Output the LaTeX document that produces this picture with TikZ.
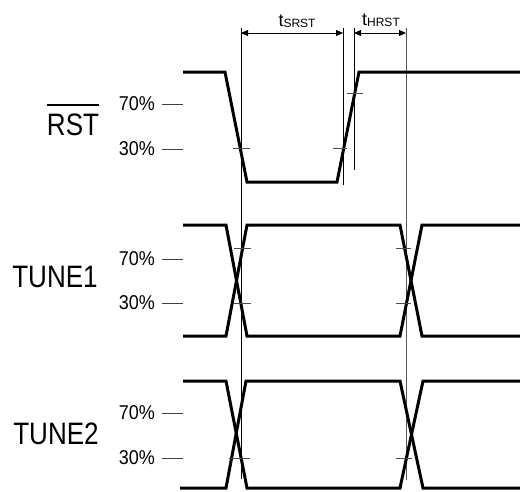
\documentclass[tikz,border=0pt]{standalone}
\usepackage{fontspec}
\setmainfont{Liberation Sans}
\newfontfamily\narrowsf[FakeStretch=0.84]{Liberation Sans}
\newfontfamily\pctsf[FakeStretch=0.9]{Liberation Sans}
\usetikzlibrary{arrows.meta}
\begin{document}
\begin{tikzpicture}[x=1pt,y=-1pt,
    wave/.style={line width=3pt, line join=miter},
    guide/.style={line width=0.8pt},
    crosstick/.style={line width=0.9pt, black!70},
    leveltick/.style={line width=0.9pt, black!75},
    dimarrow/.style={line width=0.8pt, {Triangle[length=7pt,width=6pt]}-{Triangle[length=7pt,width=6pt]}},
    sig/.style={font=\narrowsf\fontsize{31}{31}\selectfont, inner sep=0pt},
    pct/.style={font=\pctsf\fontsize{20}{20}\selectfont, inner sep=0pt, anchor=east}]
\useasboundingbox (0,0) rectangle (520,491);
% signal names
\node[sig] (rstlbl) at (73,125) {RST};
\draw[line width=1.5pt] ([yshift=9pt]rstlbl.north west) -- ([yshift=9pt]rstlbl.north east);
\node[sig] (tune1lbl) at (55,277) {TUNE1};
\node[sig] (tune2lbl) at (56,434) {TUNE2};
% level marks
\foreach \hi/\lo in {104/149, 259/303, 413/458}{
  \node[pct] at (155,\hi) {70\%};
  \node[pct] at (155,\lo) {30\%};
  \draw[leveltick] (162,\hi) -- (183,\hi);
  \draw[leveltick] (162,\lo) -- (183,\lo);
}
% guide lines
\coordinate (g1) at (241,28);
\coordinate (g2) at (343,28);
\coordinate (g3) at (354,28);
\coordinate (g4) at (406,28);
\draw[guide] (g1) -- (241,479);
\draw[guide] (g2) -- (343,185);
\draw[guide] (g3) -- (354,170);
\draw[guide, black!65] (g4) -- (406,480);
\draw[dimarrow] ([yshift=-5pt]g1) -- ([yshift=-5pt]g2);
\draw[dimarrow] ([yshift=-5pt]g3) -- ([yshift=-5pt]g4);
\node[anchor=base, inner sep=0pt] at (297,26) {\fontsize{18}{18}\selectfont t\raisebox{-1pt}{\fontsize{12}{12}\selectfont SRST}};
\node[anchor=base, inner sep=0pt] at (381,25) {\fontsize{18}{18}\selectfont t\raisebox{-1pt}{\fontsize{12}{12}\selectfont HRST}};
% waveforms
\draw[wave] (183,72) -- (225,72) -- (247,182) -- (337,182) -- (359,72) -- (520,72);
\draw[wave] (183,225) -- (226,225) -- (247,336) -- (400,336) -- (422,225) -- (520,225);
\draw[wave] (183,336) -- (226,336) -- (247,225) -- (400,225) -- (422,336) -- (520,336);
\draw[wave] (183,381) -- (226,381) -- (247,488) -- (400,488) -- (423,381) -- (520,381);
\draw[wave] (180,488) -- (226,488) -- (246,381) -- (400,381) -- (423,488) -- (520,488);
% crossing marks
\draw[crosstick] (233,148) -- (250,148);
\draw[crosstick] (333,148) -- (347,148);
\draw[crosstick] (347,93) -- (363,93);
\foreach \y in {248,303}{
  \draw[crosstick] (234,\y) -- (251,\y);
  \draw[crosstick] (396,\y) -- (411,\y);
}
\draw[crosstick] (229,458) -- (250,458);
\draw[crosstick] (396,458) -- (412,458);
\end{tikzpicture}
\end{document}
